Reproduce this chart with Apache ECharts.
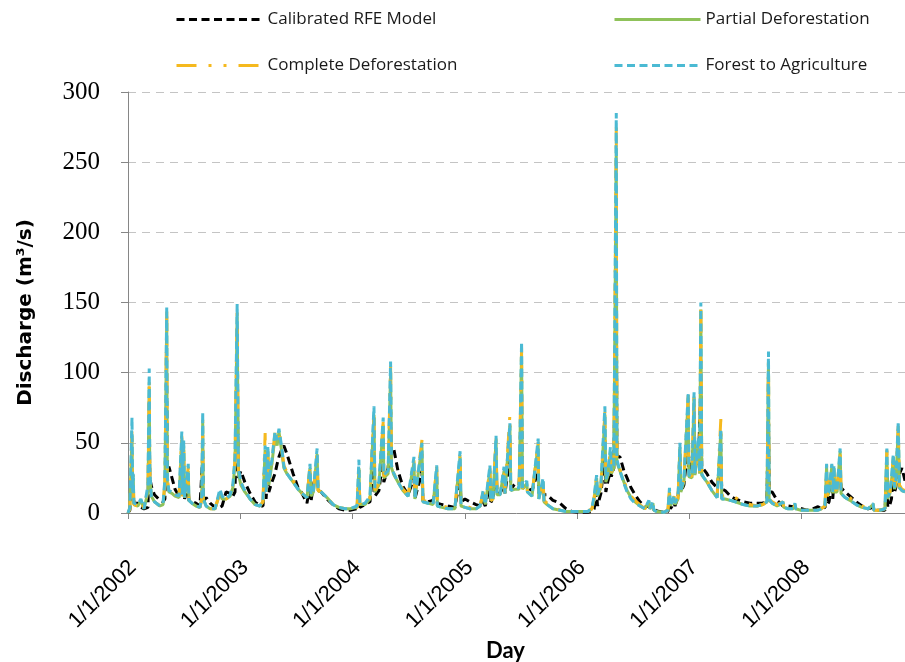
<!DOCTYPE html>
<html>
<head>
<meta charset="utf-8">
<title>Discharge</title>
<script src="https://cdn.jsdelivr.net/npm/echarts@6/dist/echarts.min.js"></script>
<style>
  html, body { margin: 0; padding: 0; background: #fff; }
  #chart { width: 905px; height: 662px; }
</style>
</head>
<body>
<div id="chart"></div>
<script>
// Daily discharge (m3/s) at selected days, four model runs
const days = [
  '2002-01-01','2002-01-07','2002-01-14','2002-01-16','2002-01-18','2002-01-20','2002-02-02','2002-02-12','2002-02-22','2002-03-07',
  '2002-03-11','2002-03-13','2002-03-18','2002-03-28','2002-04-15','2002-04-25','2002-05-01','2002-05-07','2002-05-09','2002-05-14',
  '2002-05-24','2002-06-03','2002-06-16','2002-06-25','2002-06-27','2002-07-01','2002-07-04','2002-07-16','2002-07-18','2002-07-28',
  '2002-08-10','2002-08-23','2002-08-29','2002-09-01','2002-09-03','2002-09-12','2002-09-25','2002-10-11','2002-10-27','2002-11-03',
  '2002-11-16','2002-11-29','2002-12-08','2002-12-15','2002-12-22','2002-12-26','2003-01-03','2003-01-16','2003-02-02','2003-02-18',
  '2003-03-06','2003-03-16','2003-03-23','2003-03-26','2003-04-01','2003-04-04','2003-04-14','2003-04-24','2003-05-01','2003-05-07',
  '2003-05-17','2003-05-23','2003-06-02','2003-06-22','2003-07-08','2003-07-21','2003-08-06','2003-08-16','2003-08-19','2003-08-27',
  '2003-09-08','2003-09-11','2003-09-21','2003-10-10','2003-10-30','2003-11-18','2003-12-08','2003-12-24','2004-01-16','2004-01-22',
  '2004-01-25','2004-02-11','2004-02-27','2004-03-11','2004-03-14','2004-03-27','2004-04-10','2004-04-12','2004-04-26','2004-05-04',
  '2004-05-07','2004-05-15','2004-05-28','2004-06-13','2004-06-30','2004-07-19','2004-07-22','2004-08-14','2004-08-17','2004-09-03',
  '2004-09-19','2004-10-01','2004-10-03','2004-10-18','2004-11-07','2004-11-29','2004-12-16','2004-12-19','2005-01-01','2005-01-17',
  '2005-02-06','2005-02-19','2005-03-01','2005-03-08','2005-03-23','2005-03-26','2005-04-02','2005-04-12','2005-04-15','2005-04-25',
  '2005-05-08','2005-05-11','2005-05-27','2005-05-30','2005-06-13','2005-06-26','2005-07-04','2005-07-07','2005-07-21','2005-07-23',
  '2005-08-07','2005-08-27','2005-08-29','2005-09-12','2005-09-15','2005-09-25','2005-10-14','2005-11-06','2005-11-26','2005-12-15',
  '2006-01-10','2006-02-05','2006-02-18','2006-02-25','2006-03-05','2006-03-08','2006-03-19','2006-04-01','2006-04-04','2006-04-10',
  '2006-04-19','2006-04-22','2006-04-30','2006-05-08','2006-05-10','2006-05-20','2006-06-02','2006-06-12','2006-06-25','2006-07-08',
  '2006-07-24','2006-08-09','2006-08-22','2006-08-25','2006-09-04','2006-09-07','2006-09-17','2006-10-10','2006-10-23','2006-10-28',
  '2006-10-31','2006-11-12','2006-11-15','2006-11-25','2006-12-01','2006-12-04','2006-12-14','2006-12-28','2006-12-30','2007-01-09',
  '2007-01-16','2007-01-19','2007-01-30','2007-02-03','2007-02-07','2007-02-10','2007-02-17','2007-02-27','2007-03-15','2007-04-01',
  '2007-04-13','2007-04-16','2007-04-27','2007-05-14','2007-05-30','2007-06-25','2007-07-17','2007-08-09','2007-08-28','2007-09-10',
  '2007-09-15','2007-09-17','2007-09-27','2007-10-13','2007-11-01','2007-11-04','2007-11-18','2007-12-04','2007-12-10','2007-12-13',
  '2007-12-27','2008-01-17','2008-02-04','2008-02-23','2008-03-04','2008-03-17','2008-03-22','2008-03-25','2008-03-30','2008-04-08',
  '2008-04-11','2008-04-15','2008-04-18','2008-04-25','2008-05-05','2008-05-08','2008-05-21','2008-06-06','2008-06-26','2008-07-15',
  '2008-08-04','2008-08-20','2008-08-23','2008-09-12','2008-09-28','2008-10-04','2008-10-07','2008-10-14','2008-10-19','2008-10-25',
  '2008-10-29','2008-11-02','2008-11-10','2008-11-14','2008-11-22','2008-12-02'
];

const calibrated = [
  0,2,30,8,18,7,7,4,3,4,
  60,25,19,13,9,8,10,80,30,33,
  25,17,12,30,11,25,10,20,9,8,
  7,5,5,40,8,11,7,4,4,5,
  15,14,12,15,90,25,30,22,14,8,
  5,5,30,10,30,15,22,28,35,40,
  46,48,42,28,18,14,7,20,8,20,
  30,16,15,10,6,3,2,2,3,15,
  4,6,8,40,12,16,40,22,32,60,
  42,45,30,19,13,25,10,30,9,8,
  9,20,7,6,5,4,25,8,10,8,
  6,5,8,5,20,8,9,35,14,14,
  20,14,40,17,21,20,70,19,18,18,
  16,30,14,16,13,13,9,7,3,1,
  0.5,0.5,1,3,15,5,14,40,15,22,
  30,26,32,170,40,40,30,25,18,13,
  8,4.5,5,4,4,3,1.5,0.5,1,8,
  3,7,5,12,30,15,20,50,30,38,
  50,36,35,34,90,32,31,28,22,18,
  40,17,16,12,10,8,7,7,7,10,
  70,15,15,9,5,6,5,4.5,5,4,
  3.5,2,2.7,4.5,3,4,22,6,8,22,
  10,22,15,20,30,18,15,12,8,5,
  3,4,2,2,2,30,4,6,10,28,
  15,18,40,28,32,23
];

const partial = [
  0,3,55,10,25,6,5,9,3,15,
  90,25,12,8,5,6,20,140,22,15,
  14,12,11,52,12,48,11,30,9,7,
  5,4,10,65,10,5,3,3,14,10,
  10,12,18,35,140,28,20,15,10,6,
  5,8,45,15,44,20,35,55,48,58,
  42,32,28,22,17,14,11,32,12,15,
  42,16,15,11,6,4,3,3,4,32,
  6,6,10,70,15,20,63,25,28,100,
  32,27,22,16,12,36,10,48,8,7,
  6,31,5,4,3,3,40,5,4,3,
  3,5,14,6,30,9,10,52,13,13,
  30,14,62,16,17,17,115,17,21,15,
  12,49,10,22,8,6,3,2,1,1,
  1,1,3,10,25,12,18,70,22,26,
  43,28,32,260,36,30,22,16,11,8,
  5,3,8,3,7,2,1,0.5,2,15,
  5,11,6,10,47,15,22,82,26,25,
  83,27,50,28,145,27,25,22,16,11,
  58,10,10,9,8,6,5,5,6,8,
  108,9,7,5,7,4,3,3,6,3,
  2,2,2,2,3,5,33,12,15,33,
  14,32,15,15,44,14,11,9,6,4,
  3,6,2,2,3,44,10,14,22,40,
  17,20,60,18,16,15
];

const complete = [
  0,3,60,12,27,6,5,9,3,18,
  96,28,12,8,5,6,22,144,24,16,
  15,13,12,55,12,50,11,33,9,7,
  5,4,10,68,10,5,3,3,15,11,
  10,12,19,38,147,30,22,16,10,6,
  5,8,57,15,46,20,36,57,50,59,
  44,34,29,23,18,14,11,34,12,15,
  44,16,15,11,6,4,3,3,4,34,
  6,6,11,72,16,21,65,26,30,105,
  34,28,23,17,13,38,11,52,9,8,
  7,33,6,5,4,3,42,6,5,4,
  3,5,15,6,32,9,10,53,13,13,
  32,14,70,17,18,17,118,17,22,16,
  13,51,11,23,9,7,4,2,1,1,
  1,1,3,11,26,12,19,72,23,27,
  45,29,33,278,37,31,23,17,12,9,
  6,3,8,3,8,2,1,0.5,2,16,
  5,12,6,11,48,15,23,84,27,26,
  84,28,52,29,148,28,26,23,17,12,
  67,12,13,13,11,8,6,5,6,8,
  112,10,8,6,8,4,3,3,6,3,
  2,2,2,2,3,5,34,12,16,34,
  15,33,16,17,45,16,14,11,7,5,
  3,7,2,2,3,45,11,15,24,41,
  18,22,62,20,17,16
];

const forestAg = [
  0,4,68,15,28,7,6,10,3,20,
  103,30,12,8,5,7,24,147,25,16,
  15,13,12,58,13,52,11,35,9,7,
  5,4,12,72,10,5,3,3,17,12,
  10,13,20,40,149,32,22,16,10,6,
  5,9,48,15,48,22,38,58,52,60,
  45,33,28,22,17,14,11,35,13,16,
  46,17,15,11,6,4,3,3,5,38,
  6,7,12,76,18,22,68,27,30,108,
  34,28,22,16,12,40,10,50,8,7,
  6,34,5,4,3,3,44,5,4,3,
  3,5,16,6,34,9,10,55,13,13,
  33,14,64,16,18,18,122,18,23,15,
  12,53,10,25,8,6,3,2,1,1,
  1,1,4,12,27,13,20,76,24,28,
  47,30,34,285,38,30,21,15,10,7,
  5,3,9,3,8,2,1,0.5,2,18,
  5,12,7,12,50,16,24,86,27,26,
  86,28,54,29,150,28,25,22,16,11,
  60,10,10,9,8,6,5,5,6,8,
  115,10,7,5,8,4,3,3,7,3,
  2,2,2,2,3,6,35,13,16,35,
  15,34,16,16,46,14,11,9,6,4,
  3,7,2,2,3,46,11,15,25,42,
  18,22,65,18,16,15
];

const seriesNames = ['Calibrated RFE Model', 'Partial Deforestation', 'Complete Deforestation', 'Forest to Agriculture'];
const yTicks = [0, 50, 100, 150, 200, 250, 300];

const toPairs = vals => days.map((d, i) => [d, vals[i]]);

const chart = echarts.init(document.getElementById('chart'), null, { renderer: 'canvas' });

const legendText = { fontFamily: 'Open Sans', fontSize: 17, color: '#1a1a1a' };
const legendBase = {
  itemWidth: 86, itemHeight: 14, itemGap: 0,
  textStyle: legendText,
  lineStyle: { width: 3 },
  itemStyle: { opacity: 0 },
  selectedMode: false
};

chart.setOption({
  animation: false,
  backgroundColor: '#ffffff',
  grid: { left: 128, right: 0, top: 92, bottom: 149, containLabel: false, outerBoundsMode: 'none' },
  legend: [
    Object.assign({ data: [seriesNames[0]], left: 170, top: 6 }, legendBase),
    Object.assign({ data: [seriesNames[1]], left: 608, top: 6 }, legendBase),
    Object.assign({ data: [seriesNames[2]], left: 170, top: 52 }, legendBase),
    Object.assign({ data: [seriesNames[3]], left: 608, top: 52 }, legendBase)
  ],
  xAxis: {
    type: 'time',
    min: '2002-01-01',
    max: '2008-12-02',
    minInterval: 365 * 86400000,
    maxInterval: 366 * 86400000,
    name: 'Day',
    nameLocation: 'middle',
    nameGap: 127,
    nameTextStyle: { fontFamily: 'Lato', fontWeight: 'bold', fontSize: 22, color: '#000', padding: [0, 22, 0, 0] },
    axisLine: { show: true, lineStyle: { color: '#868686', width: 1 } },
    axisTick: { show: true, length: 6, lineStyle: { color: '#868686' } },
    splitLine: { show: false },
    axisLabel: {
      rotate: 45,
      margin: 46,
      padding: [14, 0, 0, 0],
      fontFamily: 'Liberation Sans',
      fontSize: 22,
      color: '#000',
      hideOverlap: false,
      formatter: function (v) {
        const d = new Date(v);
        return (d.getMonth() + 1) + '/' + d.getDate() + '/' + d.getFullYear();
      }
    }
  },
  yAxis: {
    type: 'value',
    min: yTicks[0],
    max: yTicks[yTicks.length - 1],
    interval: 50,
    name: 'Discharge (m³/s)',
    nameLocation: 'middle',
    nameGap: 92,
    nameTextStyle: { fontFamily: 'DejaVu Sans', fontWeight: 'bold', fontSize: 20, color: '#000', padding: [0, 20, 0, 0] },
    axisLine: { show: true, lineStyle: { color: '#868686', width: 1 } },
    axisTick: { show: true, length: 7, lineStyle: { color: '#868686' } },
    splitLine: { show: true, lineStyle: { color: '#c4c4c4', type: [8, 6], width: 1 } },
    axisLabel: { margin: 28, fontFamily: 'Liberation Serif', fontSize: 25, color: '#000' }
  },
  series: [
    {
      name: seriesNames[0], type: 'line', symbol: 'none', data: toPairs(calibrated),
      lineStyle: { color: '#000000', width: 3, type: [8, 4.5] }, itemStyle: { color: '#000000' }
    },
    {
      name: seriesNames[1], type: 'line', symbol: 'none', data: toPairs(partial),
      lineStyle: { color: '#8fc25a', width: 3, type: 'solid' }, itemStyle: { color: '#8fc25a' }
    },
    {
      name: seriesNames[2], type: 'line', symbol: 'none', data: toPairs(complete),
      lineStyle: { color: '#f5b91e', width: 3, type: [20, 12, 3, 12, 3, 12] }, itemStyle: { color: '#f5b91e' }
    },
    {
      name: seriesNames[3], type: 'line', symbol: 'none', data: toPairs(forestAg),
      lineStyle: { color: '#4bbad3', width: 3, type: [8, 4.5] }, itemStyle: { color: '#4bbad3' }
    }
  ]
});
</script>
</body>
</html>
